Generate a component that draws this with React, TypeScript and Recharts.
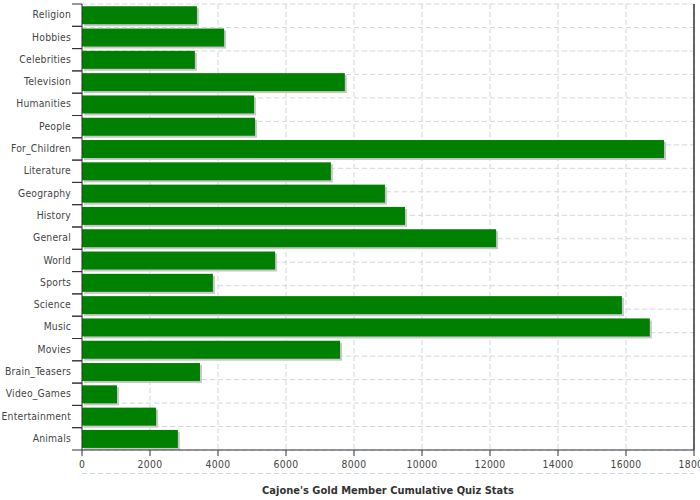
import React from 'react';
import { BarChart, Bar, XAxis, YAxis, CartesianGrid, ReferenceLine } from 'recharts';

const categories = [
  'Religion', 'Hobbies', 'Celebrities', 'Television', 'Humanities', 'People',
  'For_Children', 'Literature', 'Geography', 'History', 'General', 'World',
  'Sports', 'Science', 'Music', 'Movies', 'Brain_Teasers', 'Video_Games',
  'Entertainment', 'Animals',
];
const values = [
  3380, 4180, 3320, 7730, 5060, 5090,
  17120, 7320, 8910, 9500, 12180, 5680,
  3850, 15880, 16700, 7590, 3470, 1030,
  2180, 2820,
];
const xTicks = [0, 2000, 4000, 6000, 8000, 10000, 12000, 14000, 16000, 18000];
const gridTicks = Array.from({ length: categories.length + 1 }, (_, i) => i);
const axisTitle = "Cajone's Gold Member Cumulative Quiz Stats";

const data = categories.map((name, i) => ({ name, value: values[i] }));

const FONT = '"DejaVu Sans Condensed", "DejaVu Sans", sans-serif';
const AXIS = '#333333';

const ShadowBar = (props: any) => {
  const { x, y, width, height } = props;
  if (width == null || height == null) return null;
  return (
    <g>
      <rect x={x + 2} y={y + 2} width={width} height={height} fill="#c8c8c8" />
      <rect x={x} y={y} width={width} height={height} fill="#008000" />
    </g>
  );
};

const CatTick = (props: any) => {
  const { x, y, payload } = props;
  const off = payload && payload.offset ? payload.offset : 11;
  return (
    <g>
      <line x1={x + 1} x2={x + 11} y1={y - off} y2={y - off} stroke={AXIS} />
      <line x1={x + 1} x2={x + 11} y1={y + off} y2={y + off} stroke={AXIS} />
      <text x={x} y={y} dy="0.3em" textAnchor="end" fontFamily={FONT} fontSize={10.3} letterSpacing={0.2} fill="#444">
        {payload.value}
      </text>
    </g>
  );
};

export default function App() {
  return (
    <div style={{ position: 'absolute', left: 0, top: 0, background: '#fff' }}>
      <BarChart
        width={700}
        height={500}
        data={data}
        layout="vertical"
        margin={{ top: 4, right: 6, bottom: 0, left: 0 }}
        barCategoryGap="10%"
      >
        <CartesianGrid
          yAxisId="grid"
          stroke="#d0d7de"
          strokeDasharray="5 3"
          horizontal={true}
          vertical={true}
        />
        <XAxis
          type="number"
          domain={[0, 18000]}
          ticks={xTicks}
          interval={0}
          height={50}
          tickSize={6}
          tickMargin={5}
          stroke={AXIS}
          tick={{ fontFamily: FONT, fontSize: 10.3, fill: '#444', letterSpacing: 0.3 }}
          label={{
            value: axisTitle,
            position: 'insideBottom',
            offset: 6,
            style: { fontFamily: FONT, fontSize: 11, fontWeight: 'bold', fill: '#333' },
          }}
        />
        <YAxis
          yAxisId="cat"
          type="category"
          dataKey="name"
          width={82}
          interval={0}
          tickLine={false}
          tickSize={10}
          tickMargin={1}
          stroke={AXIS}
          tick={<CatTick />}
        />
        <YAxis
          yAxisId="grid"
          type="number"
          orientation="right"
          domain={[0, categories.length]}
          ticks={gridTicks}
          interval={0}
          hide
        />
        <ReferenceLine yAxisId="cat" x={18000} stroke={AXIS} strokeWidth={1.5} />
        <ReferenceLine yAxisId="grid" y={categories.length} stroke={AXIS} strokeWidth={1.5} />
        <Bar yAxisId="cat" dataKey="value" shape={<ShadowBar />} isAnimationActive={false} />
      </BarChart>
    </div>
  );
}
